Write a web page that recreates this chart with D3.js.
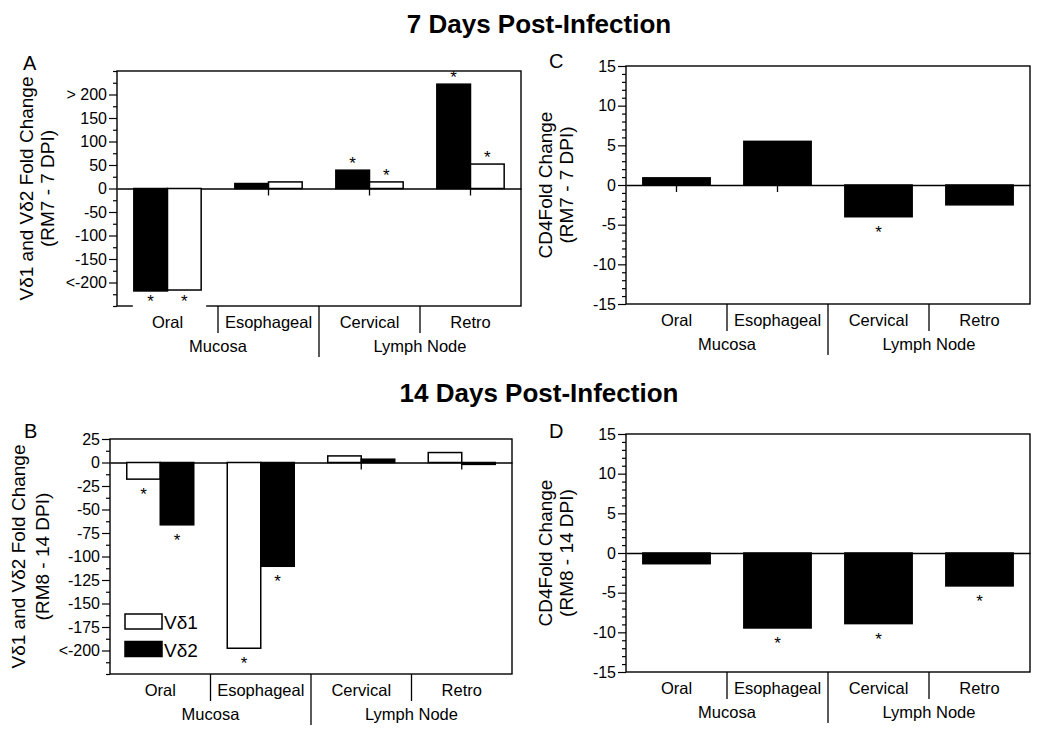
<!DOCTYPE html>
<html><head><meta charset="utf-8">
<script src="https://cdn.jsdelivr.net/npm/d3@7/dist/d3.min.js"></script>
<style>body{margin:0;background:#fff} svg text{font-family:"Liberation Sans",Arial,Helvetica,sans-serif}</style>
</head><body><svg id="c" width="1050" height="743"></svg>
<script>
// ---------- data ----------
const categories = ["Oral", "Esophageal", "Cervical", "Retro"];
const categoryGroups = ["Mucosa", "Mucosa", "Lymph Node", "Lymph Node"];
const seriesNames = ["Vδ1", "Vδ2"];

// Panel A: 7 DPI (black bar first, white bar second)
const vd2_7dpi = [-218, 10.6, 39, 222];
const vd1_7dpi = [-216, 14, 14, 52];
const vd2_7dpiSig = [true, false, true, true];
const vd1_7dpiSig = [true, false, true, true];

// Panel B: 14 DPI (white bar first, black bar second)
const vd1_14dpi = [-17.7, -197.6, 7, 10.6];
const vd2_14dpi = [-66.3, -110.4, 3.5, -2];
const vd1_14dpiSig = [true, true, false, false];
const vd2_14dpiSig = [true, true, false, false];

// Panel C / D: CD4
const cd4_7dpi = [0.9, 5.5, -4.0, -2.5];
const cd4_7dpiSig = [false, false, true, false];
const cd4_14dpi = [-1.35, -9.45, -8.9, -4.15];
const cd4_14dpiSig = [false, true, true, true];

// tick labels
const ticksA = [-200, -150, -100, -50, 0, 50, 100, 150, 200];
const tickLabelsA = ["<-200", "-150", "-100", "-50", "0", "50", "100", "150", "> 200"];
const ticksB = [-200, -175, -150, -125, -100, -75, -50, -25, 0, 25];
const tickLabelsB = ["<-200", "-175", "-150", "-125", "-100", "-75", "-50", "-25", "0", "25"];
const ticksCD = [-15, -10, -5, 0, 5, 10, 15];
const tickLabelsCD = ["-15", "-10", "-5", "0", "5", "10", "15"];

const titles = ["7 Days Post-Infection", "14 Days Post-Infection"];

// ---------- drawing ----------
const svg = d3.select("#c");
const FONT = 16;

function panel(cfg) {
  const g = svg.append("g");
  const y = d3.scaleLinear().domain(cfg.domain).range([cfg.y1, cfg.y0]);
  const x = d3.scaleBand().domain(categories).range([cfg.x0, cfg.x1]);
  const n = cfg.series.length;
  const sub = d3.scaleBand().domain(d3.range(n)).range([0, x.bandwidth()])
    .paddingInner(0).paddingOuter(n === 1 ? 0.25 : 0.5);

  // minor y ticks
  const minorTicks = d3.range(cfg.domain[0], cfg.domain[1] + 1e-9, cfg.minorStep)
    .filter(v => !cfg.ticks.includes(v));
  const minorAxis = g.append("g").attr("transform", `translate(${cfg.x0},0)`)
    .call(d3.axisLeft(y).tickValues(minorTicks).tickSize(4).tickFormat(""));
  minorAxis.select(".domain").remove();
  // major y ticks
  const majorAxis = g.append("g").attr("transform", `translate(${cfg.x0},0)`)
    .call(d3.axisLeft(y).tickValues(cfg.ticks).tickSize(8).tickPadding(2)
      .tickFormat((d, i) => cfg.tickLabels[i]));
  majorAxis.select(".domain").remove();
  majorAxis.selectAll("line").attr("stroke-width", 1.2);
  minorAxis.selectAll("line").attr("stroke-width", 1.2);
  majorAxis.selectAll("text").attr("font-size", FONT).attr("fill", "#000");

  // zero line with category ticks
  const zeroAxis = g.append("g").attr("transform", `translate(0,${y(0)})`)
    .call(d3.axisBottom(x).tickSizeInner(7).tickSizeOuter(0).tickFormat(""));
  zeroAxis.selectAll("path,line").attr("stroke", "#000").attr("stroke-width", 1.3);

  // frame
  g.append("rect").attr("x", cfg.x0).attr("y", cfg.y0)
    .attr("width", cfg.x1 - cfg.x0).attr("height", cfg.y1 - cfg.y0)
    .attr("fill", "none").attr("stroke", "#000").attr("stroke-width", 1.4);

  // frame gap beneath a bar pair (as in the original panel A)
  if (cfg.gapUnder) {
    const gx = x(cfg.gapUnder);
    g.append("line").attr("x1", gx + sub(0) - 1).attr("x2", gx + sub(n - 1) + sub.bandwidth() + 5)
      .attr("y1", cfg.y1).attr("y2", cfg.y1).attr("stroke", "#fff").attr("stroke-width", 3);
  }

  // bars
  cfg.series.forEach((s, si) => {
    const rows = s.values.map((v, i) => ({v, i, sig: s.sig[i]}));
    g.append("g").selectAll("rect").data(rows).join("rect")
      .attr("x", d => x(categories[d.i]) + sub(si))
      .attr("width", sub.bandwidth())
      .attr("y", d => y(Math.max(0, d.v)))
      .attr("height", d => Math.abs(y(d.v) - y(0)))
      .attr("fill", s.fill)
      .attr("stroke", "#000").attr("stroke-width", 1.5);
    // significance stars
    g.append("g").selectAll("text").data(rows.filter(d => d.sig)).join("text")
      .attr("x", d => x(categories[d.i]) + sub(si) + sub.bandwidth() / 2)
      .attr("y", d => d.v >= 0 ? y(d.v) - 1 : Math.min(y(d.v) + 21, cfg.y1 + 1))
      .attr("text-anchor", "middle").attr("font-size", 17).text("*");
  });

  // category labels
  const catAxis = g.append("g").attr("transform", `translate(0,${cfg.y1})`)
    .call(d3.axisBottom(x).tickSize(0).tickPadding(10));
  catAxis.select(".domain").remove();
  catAxis.selectAll("text").attr("font-size", 16.5).attr("fill", "#000")
    .attr("dy", null).attr("y", 22);

  // separators
  for (let i = 1; i < categories.length; i++) {
    const bx = x(categories[i]);
    const long = categoryGroups[i] !== categoryGroups[i - 1];
    g.append("line").attr("x1", bx).attr("x2", bx)
      .attr("y1", cfg.y1).attr("y2", cfg.y1 + (long ? 51 : 27))
      .attr("stroke", "#000").attr("stroke-width", 1.3);
  }
  // group labels
  const groups = Array.from(new Set(categoryGroups));
  groups.forEach(gr => {
    const idx = categoryGroups.map((c, i) => c === gr ? i : -1).filter(i => i >= 0);
    const gx0 = x(categories[idx[0]]), gx1 = x(categories[idx[idx.length - 1]]) + x.bandwidth();
    g.append("text").attr("x", (gx0 + gx1) / 2).attr("y", cfg.y1 + 46)
      .attr("text-anchor", "middle").attr("font-size", 16.5).text(gr);
  });

  // y-axis title (two lines)
  const cy = (cfg.y0 + cfg.y1) / 2;
  cfg.yTitle.forEach((t, i) => {
    const bx = cfg.x0 + cfg.yTitleOffsets[i];
    g.append("text").attr("transform", `translate(${bx},${cy}) rotate(-90)`)
      .attr("text-anchor", "middle").attr("font-size", 19).text(t);
  });

  // panel letter
  g.append("text").attr("x", cfg.letterPos[0]).attr("y", cfg.letterPos[1])
    .attr("font-size", 20).text(cfg.letter);

  return {x, y, g};
}

panel({
  letter: "A", letterPos: [23, 70],
  x0: 117, x1: 521, y0: 71, y1: 306, domain: [-250, 250],
  ticks: ticksA, tickLabels: tickLabelsA, minorStep: 25, gapUnder: "Oral",
  series: [
    {values: vd2_7dpi, fill: "#000", sig: vd2_7dpiSig},
    {values: vd1_7dpi, fill: "#fff", sig: vd1_7dpiSig}
  ],
  yTitle: ["Vδ1 and Vδ2 Fold Change", "(RM7 - 7 DPI)"], yTitleOffsets: [-84, -63]
});

panel({
  letter: "B", letterPos: [24, 438],
  x0: 110, x1: 512, y0: 439, y1: 674, domain: [-225, 25],
  ticks: ticksB, tickLabels: tickLabelsB, minorStep: 12.5,
  series: [
    {values: vd1_14dpi, fill: "#fff", sig: vd1_14dpiSig},
    {values: vd2_14dpi, fill: "#000", sig: vd2_14dpiSig}
  ],
  yTitle: ["Vδ1 and Vδ2 Fold Change", "(RM8 - 14 DPI)"], yTitleOffsets: [-85, -61]
});

panel({
  letter: "C", letterPos: [549, 68],
  x0: 626, x1: 1030, y0: 66, y1: 304, domain: [-15, 15],
  ticks: ticksCD, tickLabels: tickLabelsCD, minorStep: 1,
  series: [{values: cd4_7dpi, fill: "#000", sig: cd4_7dpiSig}],
  yTitle: ["CD4Fold Change", "(RM7 - 7 DPI)"], yTitleOffsets: [-74, -53]
});

panel({
  letter: "D", letterPos: [549, 438],
  x0: 626, x1: 1030, y0: 434, y1: 672, domain: [-15, 15],
  ticks: ticksCD, tickLabels: tickLabelsCD, minorStep: 1,
  series: [{values: cd4_14dpi, fill: "#000", sig: cd4_14dpiSig}],
  yTitle: ["CD4Fold Change", "(RM8 - 14 DPI)"], yTitleOffsets: [-74, -53]
});

// legend (panel B)
const legendFills = ["#fff", "#000"];
const leg = svg.append("g").attr("transform", "translate(125,614)");
seriesNames.forEach((nm, i) => {
  leg.append("rect").attr("x", 0).attr("y", i * 27.5).attr("width", 37).attr("height", 15)
    .attr("fill", legendFills[i]).attr("stroke", "#000").attr("stroke-width", 1.5);
  leg.append("text").attr("x", 39).attr("y", i * 27.5 + 15).attr("font-size", 19).text(nm);
});

// titles
svg.append("text").attr("x", 539).attr("y", 33).attr("text-anchor", "middle")
  .attr("font-size", 26).attr("font-weight", "bold").text(titles[0]);
svg.append("text").attr("x", 539).attr("y", 402).attr("text-anchor", "middle")
  .attr("font-size", 26).attr("font-weight", "bold").text(titles[1]);
</script></body></html>
